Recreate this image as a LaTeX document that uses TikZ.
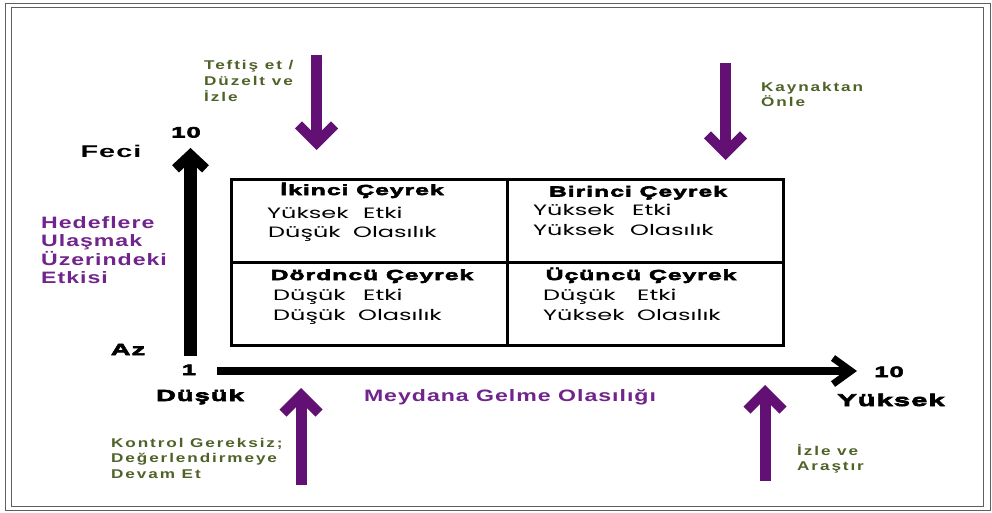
\documentclass[tikz,border=0pt]{standalone}
\usepackage{fontspec}
\usetikzlibrary{arrows.meta}

% Typefaces: wide heavy labels, bold axis titles, tracked notes, geometric cell text
\newfontfamily\heavyfont{Liberation Sans}[UprightFont={* Bold}, FakeStretch=1.7, LetterSpace=7, FakeBold=4]
\newfontfamily\boldwide{Liberation Sans}[UprightFont={* Bold}, FakeStretch=1.7, LetterSpace=6]
\newfontfamily\titlefont{Liberation Sans}[FakeStretch=1.4, LetterSpace=6]
\newfontfamily\notefont{Liberation Sans}[FakeStretch=1.35, LetterSpace=15]
\newfontfamily\cellfont{Poppins}[FakeStretch=1.6]

\definecolor{arrowpurple}{RGB}{98,16,115}
\definecolor{titlepurple}{RGB}{112,36,140}
\definecolor{noteolive}{RGB}{79,98,40}
\definecolor{framegray}{RGB}{95,95,95}

\begin{document}
\begin{tikzpicture}[x=1pt, y=-1pt,
  heavy/.style={font=\heavyfont\fontsize{#1}{#1}\selectfont, inner sep=0pt, anchor=base},
  plainbold/.style={font=\boldwide\fontsize{#1}{#1}\selectfont, inner sep=0pt, anchor=base},
  axistitle/.style={font=\titlefont\bfseries\fontsize{16.5}{16.5}\selectfont, text=titlepurple, inner sep=0pt},
  note/.style={font=\notefont\bfseries\fontsize{12.7}{12.7}\selectfont, text=noteolive, inner sep=0pt, anchor=base west},
  cell/.style={font=\cellfont\fontsize{15}{15}\selectfont, inner sep=0pt, anchor=base west},
  heading/.style={heavy=14.5},
  axisline/.style={black, line cap=butt},
  action/.style={arrowpurple, line width=11pt,
    -{Straight Barb[length=18pt, width=36pt, line width=10pt]}}
]
\useasboundingbox (0,0) rectangle (992,513);
\fill[white] (0,0) rectangle (992,513);

% double frame
\draw[framegray, line width=1.5pt] (5.5,3.5) rectangle (990.5,510.5);
\draw[framegray, line width=1.5pt] (11.5,7.5) rectangle (983.5,506.5);

% quadrant grid
\node[draw, line width=2.5pt, inner sep=0pt, minimum width=552pt, minimum height=166pt,
      anchor=north west] (grid) at (230,178) {};
\draw[line width=2.5pt] (grid.north) -- (grid.south);
\draw[line width=2.5pt] (grid.west) -- (grid.east);

% axes
\coordinate (yfoot) at (190.5,356);
\coordinate (yhead) at (190.5,148);
\coordinate (xfoot) at (217,371);
\coordinate (xhead) at (857,371);
\draw[axisline, line width=13pt, -{Straight Barb[length=14pt, width=30pt, line width=10pt]}] (yfoot) -- (yhead);
\draw[axisline, line width=8pt, -{Straight Barb[length=18pt, width=26pt, line width=7pt]}] (xfoot) -- (xhead);

% axis labels
\node[heavy=15] (ymax) at (186,137.5) {10};
\node[plainbold=17] (feci) at (111,158) {Feci};
\node[heavy=16] (az) at (128,355) {Az};
\node[heavy=15] (origin) at (189,375) {1};
\node[heavy=16] (dusuk) at (200,401) {Düşük};
\node[heavy=15] (xmax) at (889,377) {10};
\node[heavy=17] (yuksek) at (891,406) {Yüksek};
\node[axistitle, anchor=base] (xtitle) at (510,401) {Meydana Gelme Olasılığı};
\node[axistitle, anchor=base west] (yt1) at (41,228) {Hedeflere};
\node[axistitle, anchor=base west] (yt2) at (41,246.5) {Ulaşmak};
\node[axistitle, anchor=base west] (yt3) at (41,265) {Üzerindeki};
\node[axistitle, anchor=base west] (yt4) at (41,283) {Etkisi};

% quadrant texts
\node[heading] (h2) at (362,195) {İkinci Çeyrek};
\node[cell] (q2a) at (267,218) {Yüksek};
\node[cell] (q2b) at (363,218) {Etki};
\node[cell] (q2c) at (268,237) {Düşük};
\node[cell] (q2d) at (353,237) {Olasılık};

\node[heading] (h1) at (638,196.5) {Birinci Çeyrek};
\node[cell] (q1a) at (533,215) {Yüksek};
\node[cell] (q1b) at (632,215) {Etki};
\node[cell] (q1c) at (533,235) {Yüksek};
\node[cell] (q1d) at (630,235) {Olasılık};

\node[heading] (h4) at (372,280) {Dördncü Çeyrek};
\node[cell] (q4a) at (273,300) {Düşük};
\node[cell] (q4b) at (363,300) {Etki};
\node[cell] (q4c) at (273,320) {Düşük};
\node[cell] (q4d) at (358,320) {Olasılık};

\node[heading] (h3) at (641,280) {Üçüncü Çeyrek};
\node[cell] (q3a) at (543,300) {Düşük};
\node[cell] (q3b) at (637,300) {Etki};
\node[cell] (q3c) at (543,320) {Yüksek};
\node[cell] (q3d) at (637,320) {Olasılık};

% action notes
\node[note] (n1a) at (204,70) {Teftiş et /};
\node[note] (n1b) at (204,86) {Düzelt ve};
\node[note] (n1c) at (204,102) {İzle};
\node[note] (n2a) at (761,91.5) {Kaynaktan};
\node[note] (n2b) at (761,107) {Önle};
\node[note] (n3a) at (111,447) {Kontrol Gereksiz;};
\node[note] (n3b) at (111,462.5) {Değerlendirmeye};
\node[note] (n3c) at (111,478) {Devam Et};
\node[note] (n4a) at (797,455) {İzle ve};
\node[note] (n4b) at (797,470.5) {Araştır};

% action arrows
\coordinate (a1s) at (316.5,55);  \coordinate (a1e) at (316.5,150);
\coordinate (a2s) at (725.5,63);  \coordinate (a2e) at (725.5,160);
\coordinate (a3s) at (301,485);   \coordinate (a3e) at (301,388);
\coordinate (a4s) at (765,481);   \coordinate (a4e) at (765,385);
\draw[action] (a1s) -- (a1e);
\draw[action] (a2s) -- (a2e);
\draw[action] (a3s) -- (a3e);
\draw[action] (a4s) -- (a4e);
\end{tikzpicture}
\end{document}
